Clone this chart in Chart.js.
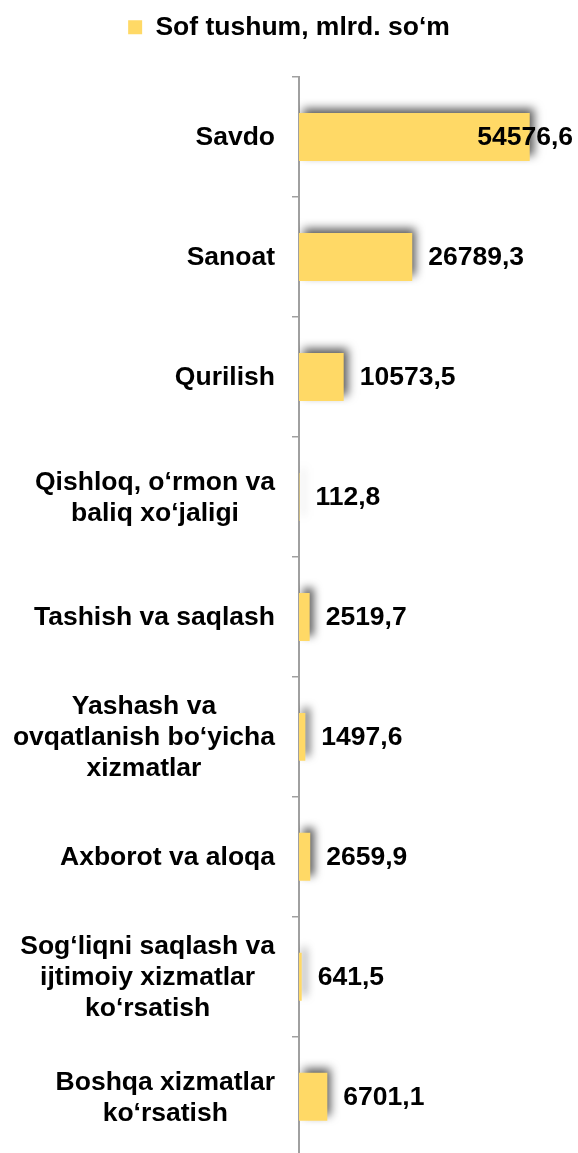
<!DOCTYPE html>
<html>
<head>
<meta charset="utf-8">
<script src="https://cdn.jsdelivr.net/npm/chart.js@4.4.1/dist/chart.umd.min.js"></script>
<style>
  html, body { margin: 0; padding: 0; background: #fff; overflow: hidden; }
  canvas { display: block; }
</style>
</head>
<body>
<canvas id="chart" width="578" height="1167"></canvas>
<script>
/* ================== DATA ================== */
const seriesName = 'Sof tushum, mlrd. so‘m';

const categories = [
  ['Savdo'],
  ['Sanoat'],
  ['Qurilish'],
  ['Qishloq, o‘rmon va', 'baliq xo‘jaligi'],
  ['Tashish va saqlash'],
  ['Yashash va', 'ovqatlanish bo‘yicha', 'xizmatlar'],
  ['Axborot va aloqa'],
  ['Sog‘liqni saqlash va', 'ijtimoiy xizmatlar', 'ko‘rsatish'],
  ['Boshqa xizmatlar', 'ko‘rsatish']
];

const values = [54576.6, 26789.3, 10573.5, 112.8, 2519.7, 1497.6, 2659.9, 641.5, 6701.1];

const axisMax = 66000;

/* ================== STYLE ================== */
const FONT = '"Liberation Sans", Arial, sans-serif';
const BAR_COLOR = '#FFD966';
const AXIS_COLOR = '#A0A0A0';
const LEGEND_HEIGHT = 77; // space reserved above the plot

const fmt = v => v.toFixed(1).replace('.', ',');

/* legend takes a fixed block at the top */
const legendSpace = {
  id: 'legendSpace',
  beforeLayout(chart) {
    const lg = chart.legend;
    if (lg && !lg._patched) {
      const fit = lg.fit.bind(lg);
      lg.fit = function () { fit(); this.height = LEGEND_HEIGHT; };
      lg._patched = true;
    }
  }
};

/* bar shadow + value labels */
const barExtras = {
  id: 'barExtras',
  beforeDatasetsDraw(chart) {
    const ctx = chart.ctx;
    ctx.save();
    ctx.shadowColor = 'rgba(0,0,0,0.65)';
    ctx.shadowBlur = 9;
    ctx.shadowOffsetX = 4;
    ctx.shadowOffsetY = -5;
  },
  afterDatasetsDraw(chart) {
    const ctx = chart.ctx;
    ctx.restore();
    ctx.save();
    ctx.font = 'bold 26.5px ' + FONT;
    ctx.fillStyle = '#000';
    ctx.textBaseline = 'middle';
    ctx.textAlign = 'left';
    const meta = chart.getDatasetMeta(0);
    meta.data.forEach((bar, i) => {
      const txt = fmt(values[i]);
      const w = ctx.measureText(txt).width;
      let x = bar.x + 16;
      x = Math.min(x, chart.width - 5 - w);
      ctx.fillText(txt, x, bar.y + 1);
    });
    ctx.restore();
  }
};

/* category labels: lines centred in a block, block right-aligned */
const catLabels = {
  id: 'catLabels',
  afterDraw(chart) {
    const ctx = chart.ctx;
    const yScale = chart.scales.y;
    const right = yScale.right - 24;
    const lh = 31;
    ctx.save();
    ctx.font = 'bold 26.5px ' + FONT;
    ctx.fillStyle = '#000';
    ctx.textBaseline = 'middle';
    ctx.textAlign = 'center';
    categories.forEach((lines, i) => {
      const y = yScale.getPixelForValue(i) + 1;
      const maxW = Math.max(...lines.map(l => ctx.measureText(l).width));
      const cx = right - maxW / 2;
      const y0 = y - (lines.length - 1) * lh / 2;
      lines.forEach((l, j) => ctx.fillText(l, cx, y0 + j * lh));
    });
    ctx.restore();
  }
};

new Chart(document.getElementById('chart'), {
  type: 'bar',
  data: {
    labels: categories,
    datasets: [{
      label: seriesName,
      data: values,
      backgroundColor: BAR_COLOR,
      borderWidth: 0,
      barPercentage: 0.4,
      categoryPercentage: 1.0
    }]
  },
  options: {
    indexAxis: 'y',
    responsive: false,
    animation: false,
    layout: { padding: { top: 0, right: 0, bottom: 3, left: 0 } },
    scales: {
      x: {
        display: false,
        min: 0,
        max: axisMax
      },
      y: {
        afterFit(scale) { scale.width = 299; },
        grid: {
          offset: true,
          drawOnChartArea: false,
          drawTicks: true,
          tickLength: 7,
          color: AXIS_COLOR,
          lineWidth: 1.5
        },
        border: { display: true, color: AXIS_COLOR, width: 2 },
        ticks: {
          autoSkip: false,
          color: 'rgba(0,0,0,0)',
          font: { size: 12 }
        }
      }
    },
    plugins: {
      legend: {
        display: true,
        position: 'top',
        labels: {
          boxWidth: 14,
          boxHeight: 14,
          padding: 14,
          color: '#000',
          font: { family: FONT, size: 26.5, weight: 'bold' }
        }
      },
      tooltip: { enabled: false }
    }
  },
  plugins: [legendSpace, barExtras, catLabels]
});
</script>
</body>
</html>
